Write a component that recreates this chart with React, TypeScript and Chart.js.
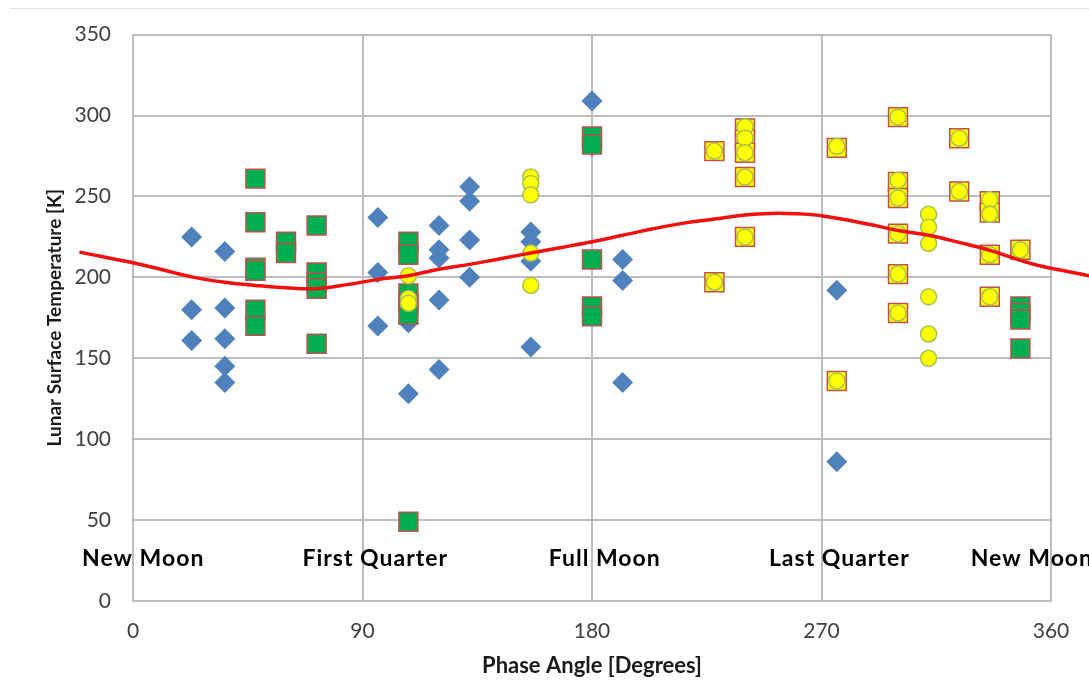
import React, { useEffect, useRef } from "react";
import { Chart, registerables } from "chart.js";

Chart.register(...registerables);

// Blue diamonds
const blueX = [23, 23, 23, 36, 36, 36, 36, 36, 96, 96, 96, 108, 108, 120, 120, 120, 120, 120, 132, 132, 132, 132, 156, 156, 156, 156, 180, 180, 192, 192, 192, 276, 276];
const blueY = [225, 180, 161, 216, 181, 162, 145, 135, 237, 203, 170, 172, 128, 232, 217, 212, 186, 143, 256, 247, 223, 200, 228, 222, 210, 157, 309, 281, 211, 198, 135, 192, 86];

// Green squares
const greenX = [48, 48, 48, 48, 48, 48, 60, 60, 72, 72, 72, 72, 72, 108, 108, 108, 108, 108, 108, 180, 180, 180, 180, 180, 348, 348, 348, 348];
const greenY = [261, 234, 206, 204, 180, 170, 222, 215, 232, 203, 197, 193, 159, 222, 214, 190, 184, 177, 49, 287, 282, 211, 182, 176, 182, 178, 174, 156];

// Yellow squares (red border)
const ysqX = [228, 228, 240, 240, 240, 240, 240, 276, 276, 300, 300, 300, 300, 300, 300, 324, 324, 336, 336, 336, 336, 348];
const ysqY = [278, 197, 292, 285, 277, 262, 225, 280, 136, 299, 259, 249, 227, 202, 178, 286, 253, 247, 240, 214, 188, 217];

// Yellow circles
const ycX = [108, 108, 108, 156, 156, 156, 156, 156, 228, 228, 240, 240, 240, 240, 240, 276, 276, 300, 300, 300, 300, 300, 300, 312, 312, 312, 312, 312, 312, 324, 324, 336, 336, 336, 336, 348];
const ycY = [201, 187, 184, 262, 258, 251, 215, 195, 278, 197, 293, 286, 277, 262, 225, 281, 136, 299, 260, 249, 227, 202, 178, 239, 231, 221, 188, 165, 150, 286, 253, 248, 239, 214, 188, 217];

// Red fitted curve
const curveX = [-21, 0, 12, 24, 36, 48, 60, 72, 84, 96, 108, 120, 132, 144, 156, 168, 180, 192, 204, 216, 228, 240, 250, 260, 270, 288, 300, 312, 324, 336, 348, 356, 375];
const curveY = [215.6, 209, 204.5, 200, 197, 195, 193.5, 193, 195.5, 198.7, 201, 205, 208, 211.5, 215, 218.5, 222, 226, 230, 233.5, 236, 238.5, 239.5, 239.3, 238, 233, 229, 226, 221.6, 216.7, 210.5, 207, 201];

// Phase annotations
const phaseNames = ["New Moon", "First Quarter", "Full Moon", "Last Quarter", "New Moon"];
const phaseX = [4, 95, 185, 277, 352.5];
const phaseY = [26, 26, 26, 26, 26];

// Axis ticks
const xTickValues = [0, 90, 180, 270, 360];
const yTickValues = [0, 50, 100, 150, 200, 250, 300, 350];

const pts = (xs: number[], ys: number[]) => xs.map((x, i) => ({ x, y: ys[i] }));

const GRID = "#BDBDBD";
const TICK_COLOR = "#404040";
const FONT = "Lato";

const phasePlugin = {
  id: "phaseLabels",
  afterDatasetsDraw(chart: any) {
    const { ctx } = chart;
    const xs = chart.scales.x;
    const ys = chart.scales.y;
    ctx.save();
    ctx.font = `bold 23px ${FONT}`;
    try {
      (ctx as any).letterSpacing = "1px";
    } catch (e) {}
    ctx.fillStyle = "#000";
    ctx.textAlign = "center";
    ctx.textBaseline = "middle";
    phaseNames.forEach((t, i) => {
      ctx.fillText(t, xs.getPixelForValue(phaseX[i]), ys.getPixelForValue(phaseY[i]));
    });
    ctx.restore();
  },
};

export default function App() {
  const ref = useRef<HTMLCanvasElement>(null);
  useEffect(() => {
    const chart = new Chart(ref.current as HTMLCanvasElement, {
      type: "scatter",
      data: {
        datasets: [
          {
            label: "Fit",
            data: pts(curveX, curveY),
            showLine: true,
            borderColor: "#F01010",
            borderWidth: 3.5,
            pointRadius: 0,
            tension: 0.4,
            capBezierPoints: false,
            clip: false,
            fill: false,
          } as any,
          {
            label: "Yellow circles",
            data: pts(ycX, ycY),
            pointStyle: "circle",
            pointRadius: 8,
            backgroundColor: "#FFFF00",
            borderColor: "#A6C150",
            borderWidth: 1.5,
          },
          {
            label: "Yellow squares",
            data: pts(ysqX, ysqY),
            pointStyle: "rect",
            pointRadius: 13.4,
            backgroundColor: "#FFFF00",
            borderColor: "#C0504D",
            borderWidth: 1.5,
          },
          {
            label: "Green squares",
            data: pts(greenX, greenY),
            pointStyle: "rect",
            pointRadius: 13.4,
            backgroundColor: "#00B050",
            borderColor: "#C0504D",
            borderWidth: 1.5,
          },
          {
            label: "Blue diamonds",
            data: pts(blueX, blueY),
            pointStyle: "rectRot",
            pointRadius: 10.5,
            backgroundColor: "#4F81BD",
            borderColor: "#4F81BD",
            borderWidth: 0,
          },
        ],
      },
      options: {
        responsive: false,
        animation: false,
        layout: { padding: { left: 0, top: 34, right: 38, bottom: 0 } },
        plugins: {
          legend: { display: false },
          tooltip: { enabled: false },
        },
        scales: {
          x: {
            type: "linear",
            min: 0,
            max: 360,
            afterBuildTicks: (s: any) => {
              s.ticks = xTickValues.map((v) => ({ value: v }));
            },
            afterFit: (s: any) => {
              s.height = 80;
            },
            ticks: {
              padding: 18,
              color: TICK_COLOR,
              font: { family: FONT, size: 21 },
            },
            grid: { color: GRID, lineWidth: 2, drawTicks: false },
            border: { color: GRID, width: 2 },
            title: {
              display: true,
              text: "Phase Angle [Degrees]",
              color: "#1a1a1a",
              font: { family: FONT, size: 22, weight: "bold" },
              padding: { top: 0, bottom: 2 },
            },
          },
          y: {
            type: "linear",
            min: 0,
            max: 350,
            afterBuildTicks: (s: any) => {
              s.ticks = yTickValues.map((v) => ({ value: v }));
            },
            afterFit: (s: any) => {
              s.width = 133;
            },
            ticks: {
              padding: 22,
              color: TICK_COLOR,
              font: { family: FONT, size: 21 },
            },
            grid: { color: GRID, lineWidth: 2, drawTicks: false },
            border: { color: GRID, width: 2 },
            title: {
              display: true,
              text: "Lunar Surface Temperature [K]",
              color: "#1a1a1a",
              font: { family: FONT, size: 19, weight: "bold" },
              padding: { top: 43, bottom: 0 },
            },
          },
        },
      } as any,
      plugins: [phasePlugin],
    });
    return () => chart.destroy();
  }, []);

  return (
    <div style={{ position: "fixed", left: 0, top: 0, width: 1089, height: 681, background: "#fff", overflow: "hidden" }}>
      <div style={{ position: "absolute", left: 10, right: 0, top: 8, height: 1, background: "#E2E2E2" }} />
      <canvas ref={ref} width={1089} height={681} style={{ position: "absolute", left: 0, top: 0 }} />
    </div>
  );
}
